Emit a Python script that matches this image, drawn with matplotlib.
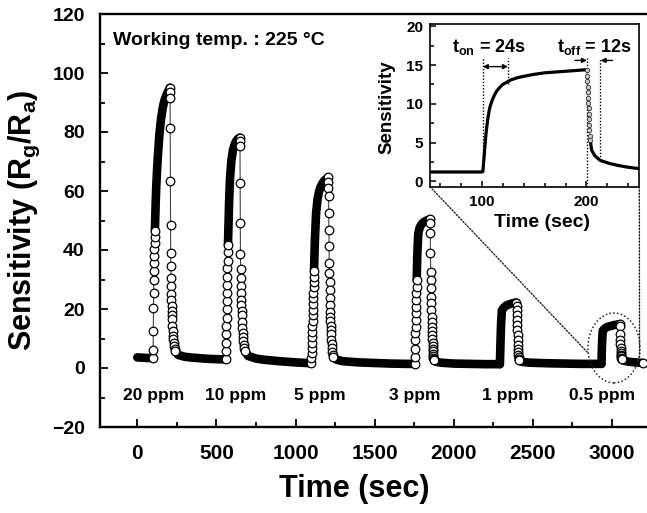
import matplotlib
matplotlib.use("Agg")
import matplotlib.pyplot as plt
from matplotlib.patches import Ellipse, ConnectionPatch
from matplotlib.ticker import MultipleLocator

plt.rcParams["font.family"] = ["Liberation Sans", "DejaVu Sans"]
plt.rcParams["font.weight"] = "bold"
plt.rcParams["axes.labelweight"] = "bold"
plt.rcParams["mathtext.fontset"] = "custom"
plt.rcParams["mathtext.rm"] = "Liberation Sans:bold"
plt.rcParams["mathtext.it"] = "Liberation Sans:bold"
plt.rcParams["mathtext.bf"] = "Liberation Sans:bold"
plt.rcParams["mathtext.default"] = "rm"

# gas concentrations and where their labels sit on the time axis
conc_labels = ["20 ppm", "10 ppm", "5 ppm", "3 ppm", "1 ppm", "0.5 ppm"]
conc_label_t = [105, 624, 1154, 1755, 2343, 2937]

# baseline readings before each pulse (dense -> drawn as a solid band)
base_t = [
    [0, 30, 60, 99],
    [240, 260, 300, 350, 400, 450, 500, 559],
    [680, 700, 750, 800, 900, 1000, 1100],
    [1240, 1260, 1300, 1400, 1500, 1600, 1700, 1754],
    [1874, 1890, 1920, 2000, 2100, 2200, 2292],
    [2412, 2430, 2480, 2600, 2700, 2800, 2934],
]
base_s = [
    [3.6, 3.5, 3.4, 3.4],
    [5.6, 4.4, 3.8, 3.5, 3.3, 3.1, 3.0, 2.9],
    [5.8, 4.1, 3.2, 2.8, 2.3, 1.9, 1.6],
    [3.6, 2.8, 2.3, 1.9, 1.7, 1.5, 1.4, 1.4],
    [2.6, 2.1, 1.8, 1.5, 1.4, 1.3, 1.3],
    [2.6, 2.1, 1.8, 1.6, 1.5, 1.4, 1.4],
]

# rising edge readings
rise_t = [
    [99, 100, 101, 102, 103, 104, 105, 106, 107, 108, 109, 110, 111],
    [559, 560, 561, 562, 563, 564, 565, 566, 567, 568, 569, 570, 571, 572, 573],
    [1100, 1101, 1102, 1103, 1104, 1105, 1106, 1107, 1108, 1109, 1110, 1111, 1112, 1113, 1114, 1115, 1116, 1117],
    [1754, 1755, 1756, 1757, 1758, 1759, 1760, 1761, 1762, 1763, 1764, 1765, 1766],
    [2292, 2293, 2294, 2295, 2296, 2297, 2298, 2299, 2300, 2301, 2302, 2303, 2304, 2305],
    [2934, 2935, 2936, 2937, 2938, 2939, 2940, 2941, 2942, 2943],
]
rise_s = [
    [3.4, 6.2, 12.6, 20.2, 25.5, 29.8, 32.8, 35.6, 38, 40.2, 42.3, 44.5, 46.6],
    [2.9, 5.6, 8.5, 11.4, 14.2, 17, 19.9, 22.7, 25.4, 28.3, 31, 33.8, 36.4, 39.2, 41.7],
    [1.6, 3.3, 5, 6.8, 8.6, 10.4, 12.2, 14.1, 16, 17.9, 19.8, 21.7, 23.6, 25.5, 27.4, 29.2, 31, 32.8],
    [1.4, 3.8, 6.6, 9.4, 11.7, 14, 16.2, 18.5, 20.8, 23, 25.3, 27.6, 29.8],
    [1.3, 3.1, 5.1, 7.1, 9.1, 10.9, 12.6, 14.1, 15.4, 16.5, 17.4, 18.2, 18.9, 19.5],
    [1.4, 3.1, 5.1, 6.9, 8.4, 9.6, 10.6, 11.4, 12.1, 12.6],
]
# small pulses rise so fast that their readings merge into the dark band
rise_as_band = [False, False, False, False, True, True]

# saturation part of each pulse (dense -> solid band)
top_t = [
    [111, 116, 120, 125, 130, 140, 150, 160, 170, 180, 190, 200, 205],
    [573, 576, 580, 586, 595, 605, 615, 625, 635, 647],
    [1117, 1122, 1130, 1140, 1150, 1160, 1170, 1180, 1190, 1200, 1206],
    [1766, 1770, 1776, 1785, 1795, 1805, 1815, 1825, 1835, 1845, 1850],
    [2305, 2315, 2330, 2350, 2370, 2385, 2397],
    [2943, 2955, 2970, 2990, 3010, 3030, 3050],
]
top_s = [
    [46.6, 56, 62, 67.5, 72, 79.5, 84.5, 88, 90.5, 92, 93.3, 94.4, 95],
    [41.7, 48, 56, 64.5, 70.5, 74, 75.8, 76.9, 77.6, 78.1],
    [32.8, 42.5, 52.5, 57.5, 60, 61.6, 62.6, 63.4, 63.9, 64.3, 64.6],
    [29.8, 38.6, 45.6, 47.6, 48.6, 49.2, 49.6, 49.9, 50.1, 50.3, 50.4],
    [19.5, 20.4, 21.1, 21.6, 21.9, 22.1, 22.2],
    [12.6, 13.4, 13.9, 14.2, 14.5, 14.7, 14.9],
]

# falling edge readings (individual circles)
fall_t = [
    [205, 206, 207, 208, 209, 210, 211, 212, 213, 214, 215, 216, 217, 218, 219, 220,
     222, 224, 226, 228, 230, 233, 236, 240],
    [647, 648, 649, 650, 651, 652, 653, 654, 655, 656, 657, 658, 659, 660,
     662, 664, 666, 668, 670, 673, 676, 680],
    [1206, 1207, 1208, 1209, 1210, 1211, 1212, 1213, 1214, 1215, 1216, 1217, 1218, 1219,
     1220, 1221, 1222, 1223, 1224, 1226, 1228, 1230, 1233, 1236, 1240],
    [1850, 1851, 1852, 1853, 1854, 1855, 1856, 1857, 1858, 1859, 1860, 1861, 1862, 1863,
     1864, 1865, 1866, 1867, 1868, 1869, 1870, 1871, 1872, 1873, 1874],
    [2397, 2398, 2399, 2400, 2401, 2402, 2403, 2404, 2405, 2406, 2407, 2408, 2409, 2410, 2411, 2412],
    [3050, 3051, 3052, 3053, 3054, 3055, 3056, 3057, 3058, 3059, 3060, 3061, 3062],
]
fall_s = [
    [95, 93.5, 91.5, 81.5, 63.5, 48.5, 39, 34.5, 30.5, 27.7, 25, 23, 21, 19.4, 17.9, 16.5,
     14.4, 12.6, 11, 9.7, 8.6, 7.4, 6.4, 5.6],
    [78.1, 77, 75.2, 62.7, 49.2, 38.7, 33.6, 30.6, 27.8, 25.4, 23.2, 21.2, 19.4, 17.8,
     15.6, 13.6, 11.9, 10.4, 9.2, 7.9, 6.8, 5.8],
    [64.6, 63.1, 61, 58.2, 52.6, 46.9, 41.2, 35.5, 32.2, 29.3, 26.5, 23.6, 21.3, 19.1,
     17.4, 15.8, 14.3, 12.9, 11.6, 9.6, 8.1, 6.8, 5.4, 4.4, 3.6],
    [50.4, 49.1, 45.7, 38.9, 32.7, 29.9, 27, 24.2, 21.9, 19.6, 17.4, 15.6, 14, 12.5,
     11.1, 9.8, 8.6, 7.5, 6.5, 5.6, 4.8, 4.1, 3.5, 3, 2.6],
    [22.2, 21.1, 19.6, 17.9, 16.2, 14.5, 12.8, 11.1, 9.4, 7.9, 6.5, 5.3, 4.3, 3.6, 3, 2.6],
    [14.9, 14.1, 11.6, 9.6, 8.1, 6.8, 5.8, 5, 4.4, 3.9, 3.5, 3.2, 2.9],
]

tail_t = [3062, 3080, 3110, 3150, 3195]
tail_s = [2.9, 2.4, 2.1, 1.9, 1.7]

# inset: 0.5 ppm pulse, inset time axis
ins_t = [52, 70, 90, 100, 101, 102, 103, 104, 105, 106, 107, 108, 110, 112, 114, 117, 120,
         124, 128, 135, 142, 150, 160, 170, 180, 190, 200]
ins_s = [1.2, 1.2, 1.2, 1.2, 1.3, 2.8, 4.6, 6.1, 7.3, 8.3, 9.1, 9.7, 10.5, 11.1, 11.6, 12.1, 12.5,
         12.8, 13.1, 13.4, 13.6, 13.8, 14.0, 14.1, 14.2, 14.3, 14.4]
ins_fall_t = [200.5, 200.8, 201.0, 201.2, 201.4, 201.6, 201.8, 202.0, 202.2, 202.4, 202.6, 202.9, 203.2, 203.6]
ins_fall_s = [14.3, 13.6, 12.9, 12.2, 11.5, 10.8, 10.1, 9.4, 8.7, 8.0, 7.3, 6.6, 5.9, 5.3]
ins_rec_t = [203.6, 205, 208, 213, 222, 230, 238, 245, 250]
ins_rec_s = [5.3, 4.0, 3.3, 2.7, 2.3, 2.05, 1.85, 1.72, 1.64]

ton_start, ton_end = 101, 125
toff_start, toff_end = 201, 213

band_style = dict(color="black", lw=6.2, solid_capstyle="round", solid_joinstyle="round", zorder=2)
circ_style = dict(color="#444444", lw=0.8, marker="o", ms=6.2, mfc="white", mec="black", mew=0.9, zorder=3)

fig = plt.figure(figsize=(6.47, 5.13), dpi=100)
ax = fig.add_axes([100 / 647, 86 / 513, 547 / 647, 413 / 513])

for i in range(len(conc_labels)):
    ax.plot(base_t[i], base_s[i], **band_style)
    if rise_as_band[i]:
        ax.plot(rise_t[i], rise_s[i], **band_style)
    else:
        ax.plot(rise_t[i], rise_s[i], **circ_style)
    ax.plot(top_t[i], top_s[i], **band_style)
    ax.plot(fall_t[i], fall_s[i], **circ_style)
ax.plot(tail_t, tail_s, **band_style)
ax.plot(tail_t[-1:], tail_s[-1:], **circ_style)

for lab, t in zip(conc_labels, conc_label_t):
    ax.text(t, -9.2, lab, ha="center", va="center", fontsize=12.5)

ax.text(0.024, 0.937, "Working temp. : 225 °C", transform=ax.transAxes, fontsize=14, va="center")

ax.add_patch(Ellipse((3013, 6.8), 329, 23.7, fill=False, ls=(0, (1, 1.5)), lw=1.1, ec="#222222", zorder=4))

ax.set_xlim(-236, 3222)
ax.set_ylim(-20, 120)
ax.xaxis.set_major_locator(MultipleLocator(500))
ax.xaxis.set_minor_locator(MultipleLocator(250))
ax.yaxis.set_major_locator(MultipleLocator(20))
ax.yaxis.set_minor_locator(MultipleLocator(10))
ax.tick_params(which="both", direction="in", width=1.3, top=False, right=False)
ax.tick_params(which="major", length=6)
ax.tick_params(which="minor", length=3.5)
ax.tick_params(axis="x", labelsize=15, pad=12)
ax.tick_params(axis="y", labelsize=14, pad=11)
for side in ["left", "bottom", "top"]:
    ax.spines[side].set_linewidth(1.7)
ax.spines["right"].set_visible(False)

ax.set_xlabel("Time (sec)", fontsize=22)
ax.xaxis.set_label_coords(0.464, -0.115)
ax.set_ylabel("Sensitivity (R$_g$/R$_a$)", fontsize=22)
ax.yaxis.set_label_coords(-0.106, 0.5)

# inset
ins = fig.add_axes([430 / 647, (513 - 186.7) / 513, 209.3 / 647, 162.7 / 513])
ins.plot(ins_t, ins_s, color="black", lw=2.3, solid_capstyle="round", zorder=3)
ins.plot(ins_fall_t, ins_fall_s, color="#555555", lw=0.6, marker="o", ms=3.2,
         mfc="#cccccc", mec="#333333", mew=0.6, zorder=4)
ins.plot(ins_rec_t, ins_rec_s, color="black", lw=2.3, solid_capstyle="round", zorder=3)

dot = dict(color="black", lw=1.0, ls=(0, (1, 1.3)), zorder=2)
ins.plot([ton_start, ton_start], [1.2, 15.9], **dot)
ins.plot([ton_end, ton_end], [12.6, 15.9], **dot)
ins.plot([toff_start, toff_start], [-0.7, 15.9], **dot)
ins.plot([toff_end, toff_end], [2.7, 15.9], **dot)

arr = dict(color="black", lw=1.0, shrinkA=0, shrinkB=0, mutation_scale=7)
ins.annotate("", xy=(ton_end, 14.8), xytext=(ton_start, 14.8), arrowprops=dict(arrowstyle="<|-|>", **arr))
ins.annotate("", xy=(toff_start - 0.5, 15.6), xytext=(toff_start - 12, 15.6), arrowprops=dict(arrowstyle="-|>", **arr))
ins.annotate("", xy=(toff_end + 0.5, 15.6), xytext=(toff_end + 12, 15.6), arrowprops=dict(arrowstyle="-|>", **arr))

ins.text(107, 17.3, "t$_{on}$ = 24s", ha="center", va="center", fontsize=13)
ins.text(207, 17.3, "t$_{off}$ = 12s", ha="center", va="center", fontsize=13)

ins.set_xlim(50.5, 250.5)
ins.set_ylim(-0.7, 20.3)
ins.xaxis.set_major_locator(MultipleLocator(100))
ins.xaxis.set_minor_locator(MultipleLocator(20))
ins.yaxis.set_major_locator(MultipleLocator(5))
ins.yaxis.set_minor_locator(MultipleLocator(2.5))
ins.tick_params(which="both", direction="in", width=1.1, top=False, right=False, labelsize=11)
ins.tick_params(which="major", length=4.5)
ins.tick_params(which="minor", length=2.8)
ins.tick_params(axis="x", pad=6)
ins.tick_params(axis="y", pad=5)
for side in ins.spines:
    ins.spines[side].set_linewidth(1.2)
ins.set_xlabel("Time (sec)", fontsize=14)
ins.xaxis.set_label_coords(0.535, -0.17)
ins.set_ylabel("Sensitivity", fontsize=13.5)
ins.yaxis.set_label_coords(-0.165, 0.49)

# zoom guide lines from inset to the circled pulse
for xa, xb_t, xb_s in [(0, 2849, 5.1), (1, 3175, 3.7)]:
    cp = ConnectionPatch(xyA=(xa, 0), coordsA=ins.transAxes, xyB=(xb_t, xb_s), coordsB=ax.transData,
                         color="#222222", lw=1.0, ls=(0, (1, 1.3)), zorder=1)
    fig.add_artist(cp)

fig.savefig("out.png", dpi=100)
